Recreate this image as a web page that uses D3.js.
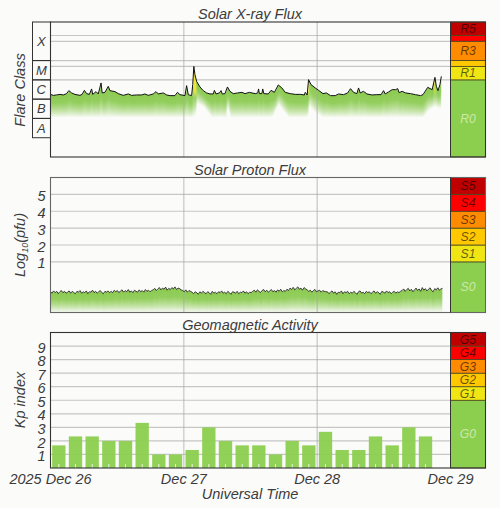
<!DOCTYPE html>
<html><head><meta charset="utf-8">
<script src="https://cdn.jsdelivr.net/npm/d3@7"></script>
<style>html,body{margin:0;padding:0;background:#fbfbfa}svg{display:block}text{font-family:"Liberation Sans",Arial,sans-serif;font-style:italic;fill:#3c3c3c}</style>
</head><body><svg id="c" width="500" height="508"></svg>
<script>
// hours since 2025 Dec 26 00:00 UT
const xrayHours=[0,.5,1.1,1.7,2.3,2.9,3.3,3.8,4.4,5.3,5.7,6.1,6.5,7,7.4,7.6,8.2,8.6,9.1,9.3,9.8,10.4,10.7,11.6,12.2,13.1,14,14.6,15.5,16.4,17,17.6,18.5,19,19.4,20.3,20.9,21.5,22.4,22.85,23.3,24.2,24.5,24.8,25.4,25.6,25.8,26,26.3,26.9,27.5,28.1,28.7,29.3,29.5,29.8,30.4,30.7,30.9,31.4,31.85,32.3,32.9,33.7,34.45,35,35.8,36.85,37.3,37.45,37.6,38.05,38.2,38.4,39.2,39.7,40.3,41,41.65,42.25,43.15,44.05,45,45.7,45.85,46.2,46.45,46.9,47.65,48.25,49.05,49.65,50.4,51.25,51.85,52.75,53.5,53.8,54,54.55,55.15,55.45,55.75,56.35,56.95,57.85,58.75,59.5,59.95,60.25,60.85,61.5,62.1,62.5,62.75,63.3,63.9,64.8,65.7,66.6,67.05,67.9,68.7,69.2,69.45,69.75,70.1,70.35];
// X-ray flux, microwatts per square metre
const xrayFlux=[1.77,1.57,1.65,1.77,1.65,1.93,2.76,2.1,1.77,1.57,1.77,2.86,1.93,1.77,3.38,1.77,2.45,1.86,6.93,2.1,2.25,4.61,2.76,2.45,1.93,1.57,1.86,1.57,1.65,1.65,1.86,1.57,1.86,2.45,1.86,2.1,1.65,1.52,1.52,2.25,1.71,1.52,5.01,1.71,1.52,5.65,50,18.6,8.37,4.29,2.76,2.1,1.86,1.86,2.86,1.86,2.1,2.76,1.86,1.93,4.29,2.54,1.93,2.1,2.25,1.93,2.25,1.93,2.1,3.38,1.93,1.93,3.38,1.93,1.86,2.86,2.25,5.45,3.81,2.25,1.93,1.77,1.77,1.65,2.25,1.65,10.3,5.65,3.81,2.86,1.93,2.1,1.52,1.52,1.86,1.71,2.1,2.86,3.5,2.25,1.93,3.81,2.1,2.54,1.86,1.65,1.71,1.71,2.76,1.86,2.36,3.11,3.11,3.5,2.17,2.54,2.1,1.93,1.71,1.52,1.71,4.09,3.11,13.5,4.61,2.76,5.65,15.2];
// flux level at which the fill under the X-ray curve has faded out
const fadeHours=[0,25.5,25.6,26,26.3,27.5,29,31.5,31.8,32.4,39.8,41,42.8,46.2,46.5,47.5,49,67,68,69,70.4];
const fadeFlux=[.11,.11,.13,.13,.6,.4,.11,.11,.4,.11,.11,.5,.11,.11,.45,.2,.11,.11,.25,.4,.3];
const flareLevels=[10,50,100,1000,2000];
const flareClasses=["A","B","C","M","X"];
const flareEdges=[.01,.1,1,10,100,10000];
const rBands=[.001,10,50,100,1000,2000,10000];
const rLabels=["R0","R1","","R3","","R5"];
// proton flux in pfu, one reading every protonStep hours
const protonStep=.28;
const protonFlux=[.17,.14,.19,.15,.18,.13,.17,.2,.15,.18,.14,.16,.19,.14,.18,.15,.13,.18,.16,.2,.14,.17,.15,.19,.13,.17,.16,.21,.15,.18,.14,.17,.2,.15,.13,.18,.16,.19,.15,
.18,.15,.21,.17,.2,.15,.19,.22,.16,.2,.17,.23,.16,.19,.15,.21,.18,.16,.22,.17,.2,.16,.23,.18,.21,.17,.2,
.22,.27,.2,.25,.3,.22,.28,.24,.32,.21,.27,.23,.3,.25,.33,.23,.28,.26,.22,
.2,.17,.22,.16,.2,.18,
.16,.13,.17,.15,.12,.17,.14,.18,.15,.13,.17,.15,.12,.18,.14,.16,.13,.17,.15,.19,.14,.16,.13,.18,.15,.12,.17,.16,.14,.18,.13,.16,.15,.19,.14,.17,.13,.16,.15,
.18,.21,.16,.22,.18,.15,.2,.23,.17,.21,.16,.19,.23,.17,.2,.16,.22,.18,.24,.17,.2,.18,
.24,.2,.28,.23,.31,.22,.27,.33,.24,.28,.21,.3,.25,
.22,.18,.21,.16,.2,.23,.17,.19,.21,.16,.2,.18,.17,
.17,.13,.16,.19,.14,.17,.12,.16,.15,.19,.13,.17,.15,.18,.13,.16,.14,.18,.15,.12,.17,.19,.14,.16,.13,.18,.15,.17,.13,.16,.19,.14,.17,.15,.12,.18,.16,.14,.19,.15,.17,.13,.16,.18,.14,.17,.15,.18,
.2,.25,.18,.23,.27,.19,.24,.17,.22,.28,.2,.25,.18,.3,.21,.26,.19,.24,.29,.2,.17,.26,.22,.29,.21,.25,.27];
const protonTicks=[1,2,3,4,5];
const sBands=[-2,1,2,3,4,5,6];
const sLabels=["S0","S1","S2","S3","S4","S5"];
// Kp index per 3-hour interval
const kpValues=[1.67,2.33,2.33,2,2,3.33,1,1,1.33,3,2,1.67,1.67,1,2,1.67,2.67,1.33,1.33,2.33,1.67,3,2.33];
const kpTicks=[1,2,3,4,5,6,7,8,9];
const gBands=[0,5,6,7,8,9,10];
const gLabels=["G0","G1","G2","G3","G4","G5"];
const bandColors=["#8ccf4e","#f0e614","#ffc800","#ff8c00","#ff0000","#c00000"];
const rColors=bandColors;
const dayTicks=[0,24,48,72];
const dayLabels=["2025 Dec 26","Dec 27","Dec 28","Dec 29"];
const titles=["Solar X-ray Flux","Solar Proton Flux","Geomagnetic Activity"];

const svg=d3.select("#c");
const defs=svg.append("defs");
const FS=14.5, gridC="#c6c6c6", dark="#333";
const L=50.5,M=450.5,R=485.5;
const x=d3.scaleLinear().domain([0,72]).range([L,M]);
const yX=d3.scaleLog().domain([.001,10000]).range([157,22]);
const yP=d3.scaleLinear().domain([-2,6]).range([312.5,177.5]);
const yK=d3.scaleLinear().domain([0,10]).range([468,332.5]);

function hlines(vals,y){
  svg.append("g").selectAll("line").data(vals).join("line")
   .attr("x1",L).attr("x2",M).attr("y1",d=>y(d)).attr("y2",d=>y(d))
   .attr("stroke",gridC).attr("stroke-width",1.2);
}
function vlines(y){
  svg.append("g").selectAll("line").data(dayTicks.slice(1,3)).join("line")
   .attr("x1",d=>x(d)).attr("x2",d=>x(d)).attr("y1",y.range()[0]).attr("y2",y.range()[1])
   .attr("stroke","#aaa").attr("stroke-opacity",.65).attr("stroke-width",1.2);
}
function bands(edges,labels,colors,y,sep){
  const g=svg.append("g");
  const d=labels.map((t,i)=>({t,i,a:edges[i],b:edges[i+1]}));
  g.selectAll("rect").data(d).join("rect")
   .attr("x",M).attr("width",R-M).attr("y",e=>y(e.b)).attr("height",e=>y(e.a)-y(e.b))
   .attr("fill",e=>colors[e.i]).attr("stroke",sep).attr("stroke-width",.8);
  g.selectAll("text").data(d).join("text")
   .attr("x",(M+R)/2).attr("y",e=>(y(e.a)+y(e.b))/2+4.3).attr("text-anchor","middle")
   .attr("font-size",12.2).style("fill",e=>e.i==0?"rgba(255,255,255,.55)":"rgba(0,0,0,.6)").text(e=>e.t);
}
function frame(y,color){
  svg.append("rect").attr("x",L).attr("y",y.range()[1]).attr("width",R-L).attr("height",y.range()[0]-y.range()[1])
   .attr("fill","none").attr("stroke",color).attr("stroke-width",1.1);
  svg.append("line").attr("x1",M).attr("x2",M).attr("y1",y.range()[0]).attr("y2",y.range()[1]).attr("stroke",dark);
}
function title(s,y0){
  svg.append("text").attr("x",250).attr("y",y0).attr("text-anchor","middle").attr("font-size",FS).text(s);
}
function ylabel(yc){
  return svg.append("text").attr("transform",`translate(25,${yc}) rotate(-90)`).attr("text-anchor","middle").attr("font-size",FS);
}
function ticksLeft(vals,y){
  svg.append("g").selectAll("text").data(vals).join("text")
   .attr("x",45.5).attr("y",d=>y(d)+6.6).attr("text-anchor","end").attr("font-size",FS).text(d=>d);
}
let gid=0;
function columnFill(sel,col,top,bottom,hot){
  const id="g"+(gid++);
  const g=defs.append("linearGradient").attr("id",id).attr("gradientUnits","userSpaceOnUse")
    .attr("x1",0).attr("x2",0).attr("y1",top).attr("y2",bottom);
  const green="#6cbd22";
  const stops=hot?[[0,"#f2e400",1],[.42,"#e8e000",1],[.6,green,.8],[1,green,0]]:[[0,green,1],[.35,green,.9],[1,green,0]];
  stops.forEach(s=>g.append("stop").attr("offset",s[0]).attr("stop-color",s[1]).attr("stop-opacity",s[2]));
  sel.append("rect").attr("x",col).attr("width",1.05).attr("y",top).attr("height",bottom-top).attr("fill",`url(#${id})`);
}

// ---- panel 1: X-ray
title(titles[0],18.5);
hlines(flareLevels,yX);
const clipX=d3.area().x((d,i)=>x(xrayHours[i])).y0(yX.range()[0]).y1(d=>yX(d));
defs.append("clipPath").attr("id","cx").append("path").attr("d",clipX(xrayFlux));
const gx=svg.append("g").attr("clip-path","url(#cx)");
const logLine=d3.scaleLinear().domain(xrayHours).range(xrayFlux.map(Math.log10));
const logFade=d3.scaleLinear().domain(fadeHours).range(fadeFlux.map(Math.log10));
d3.range(x(0),x(xrayHours[xrayHours.length-1]),1).forEach(px=>{
  const h=x.invert(px), f=Math.pow(10,logLine(h)), b=Math.pow(10,logFade(h));
  columnFill(gx,px,yX(f),yX(b),f>=9);
});
vlines(yX);
svg.append("path").attr("fill","none").attr("stroke","#111").attr("stroke-width",1).attr("stroke-linejoin","round")
 .attr("d",d3.line().x((d,i)=>x(xrayHours[i])).y(d=>yX(d))(xrayFlux));
bands(rBands,rLabels,rColors,yX,"#4a4a20");
frame(yX,dark);
const boxG=svg.append("g");
flareClasses.forEach((c,i)=>{
  boxG.append("rect").attr("x",32.5).attr("width",L-32.5).attr("y",yX(flareEdges[i+1])).attr("height",yX(flareEdges[i])-yX(flareEdges[i+1]))
   .attr("fill","none").attr("stroke",dark).attr("stroke-width",1);
  boxG.append("text").attr("x",41.3).attr("y",(yX(flareEdges[i])+yX(flareEdges[i+1]))/2+4.6).attr("text-anchor","middle").attr("font-size",13).text(c);
});
ylabel(90).text("Flare Class");

// ---- panel 2: protons
title(titles[1],175);
hlines(protonTicks,yP);
const protonHours=protonFlux.map((d,i)=>i*protonStep);
const yPf=d=>yP(Math.log10(d));
const logP=d3.scaleLinear().domain(protonHours).range(protonFlux.map(Math.log10));
defs.append("clipPath").attr("id","cp").append("path").attr("d",d3.area().x((d,i)=>x(protonHours[i])).y0(yP.range()[0]).y1(d=>yPf(d))(protonFlux));
const gp=svg.append("g").attr("clip-path","url(#cp)");
d3.range(x(0),x(protonHours[protonHours.length-1]),1).forEach(px=>{
  columnFill(gp,px,yP(logP(x.invert(px))),yP.range()[0],false);
});
vlines(yP);
svg.append("path").attr("fill","none").attr("stroke","#111").attr("stroke-width",.8)
 .attr("d",d3.line().x((d,i)=>x(protonHours[i])).y(d=>yPf(d))(protonFlux));
bands(sBands,sLabels,bandColors,yP,"#4a4a20");
frame(yP,"#666");
ticksLeft(protonTicks,yP);
const pl=ylabel(245);
pl.append("tspan").text("Log");
pl.append("tspan").attr("font-size",9).attr("dy",3).text("10");
pl.append("tspan").attr("dy",-3).text("(pfu)");

// ---- panel 3: Kp
title(titles[2],330);
hlines(kpTicks,yK);
vlines(yK);
const barX=d3.scaleBand().domain(d3.range(24)).range([x(0),x(72)]).paddingInner(.2).paddingOuter(.1);
svg.append("g").selectAll("rect").data(kpValues).join("rect")
 .attr("x",(d,i)=>barX(i)).attr("width",barX.bandwidth()).attr("y",d=>yK(d)).attr("height",d=>yK(0)-yK(d))
 .attr("fill","#8ccf4e").attr("fill-opacity",.95);
svg.append("g").selectAll("line").data(kpValues).join("line")
 .attr("x1",(d,i)=>barX(i)+barX.bandwidth()/2).attr("x2",(d,i)=>barX(i)+barX.bandwidth()/2)
 .attr("y1",yK(0)).attr("y2",yK(0)-4).attr("stroke","#fff").attr("stroke-opacity",.8);
bands(gBands,gLabels,bandColors,yK,"#4a4a20");
frame(yK,dark);
ticksLeft(kpTicks,yK);
ylabel(400).text("Kp index");

// ---- time axis
svg.append("g").selectAll("text").data(dayTicks).join("text")
 .attr("x",d=>x(d)).attr("y",483.5).attr("text-anchor","middle").attr("font-size",FS).text((d,i)=>dayLabels[i]);
svg.append("text").attr("x",250).attr("y",499).attr("text-anchor","middle").attr("font-size",FS).text("Universal Time");
</script></body></html>
